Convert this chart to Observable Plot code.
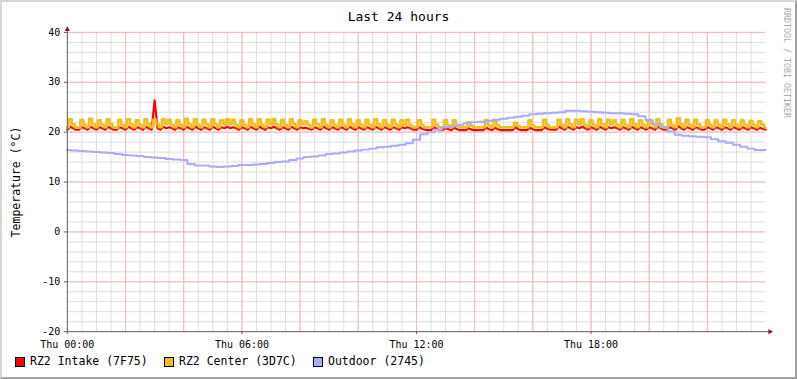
<!DOCTYPE html>
<html>
<head>
<meta charset="utf-8">
<script src="https://cdn.jsdelivr.net/npm/d3@7"></script>
<script src="https://cdn.jsdelivr.net/npm/@observablehq/plot@0.6"></script>
<style>
html, body { margin: 0; padding: 0; background: #fff; }
#wrap {
  position: relative; width: 797px; height: 379px; box-sizing: border-box;
  border-top: 2px solid #d6d6d6; border-left: 2px solid #d6d6d6;
  border-right: 2px solid #a2a2a2; border-bottom: 2px solid #a2a2a2;
  background: #fff; overflow: hidden;
  font-family: "DejaVu Sans Mono", monospace; color: #000;
}
#chart { position: absolute; left: -2px; top: -2px; }
#title { position: absolute; left: -2px; width: 797px; top: 7px; text-align: center; font-size: 13px; line-height: 16px; }
#ylabel-wrap { position: absolute; left: 14px; top: 180px; width: 0; height: 0; }
#ylabel-wrap span { position: absolute; left: 0; top: 0; font-size: 11.5px; white-space: nowrap; transform: translate(-50%, -50%) rotate(-90deg); }
#watermark { position: absolute; left: 780px; top: 6px; writing-mode: vertical-rl; font-size: 8.3px; color: #a8a8a8; white-space: nowrap; }
.leg { position: absolute; top: 352px; font-size: 11.5px; line-height: 14px; white-space: nowrap; }
.leg i { position: absolute; left: -15px; top: 3px; width: 8px; height: 8px; border: 1px solid #000; }
</style>
</head>
<body>
<div id="wrap">
  <div id="chart"></div>
  <div id="title"></div>
  <div id="ylabel-wrap"><span id="ylabel-text"></span></div>
  <div id="watermark"></div>
  <div id="legend"></div>
</div>
<script>
// ---- texts ----
const titleText = "Last 24 hours";
const yLabelText = "Temperature (°C)";
const watermarkText = "RRDTOOL / TOBI OETIKER";
const seriesNames = ["RZ2 Intake (7F75)", "RZ2 Center (3D7C)", "Outdoor (2745)"];
const seriesColors = ["#ff0000", "#ecc11e", "#aaaaff"];

// ---- axis ticks ----
const xTickHours = [0, 6, 12, 18];
const xTickLabels = ["Thu 00:00", "Thu 06:00", "Thu 12:00", "Thu 18:00"];
const yTickValues = [-20, -10, 0, 10, 20, 30, 40];

// ---- data: RZ2 Intake, one sample every 6 minutes from Thu 00:00 ----
const intakeStepMinutes = 6;
const intake = [
  20.5, 21.1, 20.8, 20.5, 20.5, 21.0, 20.8, 20.5, 21.1, 20.8,
  20.5, 21.0, 20.8, 20.5, 21.1, 20.8, 20.5, 20.5, 21.0, 20.8,
  20.5, 21.1, 20.8, 20.5, 21.0, 20.8, 20.5, 21.1, 20.8, 20.5,
  26.4, 20.8, 20.5, 21.1, 20.8, 21.0, 20.8, 20.5, 21.0, 20.8,
  20.5, 21.1, 20.8, 20.5, 21.1, 20.8, 20.5, 21.0, 20.8, 20.5,
  21.1, 20.8, 20.5, 21.0, 20.8, 21.1, 20.8, 21.0, 20.8, 20.5,
  21.0, 20.8, 20.5, 21.1, 20.8, 20.5, 21.1, 20.8, 20.5, 21.0,
  20.8, 21.1, 20.8, 20.5, 21.0, 20.8, 20.5, 21.1, 20.8, 20.5,
  21.0, 20.8, 20.9, 20.7, 20.5, 21.0, 20.8, 20.5, 21.1, 20.8,
  20.5, 21.0, 20.8, 20.5, 21.0, 20.8, 20.5, 21.1, 20.8, 20.5,
  21.0, 20.8, 20.5, 21.0, 20.8, 20.5, 21.1, 20.8, 20.5, 21.0,
  20.8, 20.5, 21.0, 20.8, 20.5, 21.0, 20.8, 21.0, 20.8, 20.5,
  20.5, 21.0, 20.7, 20.5, 20.4, 20.4, 21.0, 20.7, 20.4, 20.4,
  20.9, 20.6, 20.4, 20.9, 20.6, 20.4, 20.4, 20.4, 20.8, 20.5,
  20.4, 20.4, 20.4, 20.4, 20.9, 20.6, 20.4, 20.9, 20.6, 20.4,
  20.4, 20.4, 20.4, 20.4, 21.0, 20.6, 20.4, 20.4, 20.4, 20.9,
  20.6, 20.4, 20.4, 20.4, 21.0, 20.7, 20.5, 20.5, 20.5, 21.1,
  20.8, 20.5, 21.1, 20.8, 20.5, 21.0, 20.8, 21.1, 20.8, 20.5,
  21.0, 20.8, 20.5, 21.1, 20.8, 20.5, 21.0, 20.8, 21.0, 20.8,
  20.5, 21.0, 20.8, 20.5, 21.1, 20.8, 20.5, 21.0, 20.8, 20.5,
  21.0, 20.8, 20.5, 21.1, 20.8, 20.5, 20.5, 21.0, 20.8, 20.5,
  21.2, 20.8, 20.5, 21.0, 20.8, 20.5, 21.0, 20.8, 20.5, 20.5,
  21.0, 20.8, 20.5, 21.0, 20.8, 20.5, 21.0, 20.8, 20.5, 21.0,
  20.8, 20.5, 21.0, 20.8, 20.5, 21.0, 20.8, 20.5, 20.9, 20.7,
  20.5
];

// ---- data: RZ2 Center, one sample every 6 minutes from Thu 00:00 ----
const centerStepMinutes = 6;
const center = [
  21.0, 22.6, 21.6, 21.0, 20.9, 22.5, 21.5, 21.0, 22.7, 21.6,
  21.0, 22.4, 21.5, 21.0, 22.6, 21.6, 21.0, 20.9, 22.5, 21.5,
  21.0, 22.6, 21.6, 21.0, 22.4, 21.5, 21.0, 22.6, 21.6, 21.0,
  22.5, 21.6, 21.0, 22.6, 21.7, 22.5, 21.5, 21.0, 22.4, 21.5,
  21.0, 22.7, 21.6, 21.0, 22.6, 21.5, 21.0, 22.5, 21.6, 21.0,
  22.6, 21.6, 21.0, 22.4, 21.6, 22.6, 21.6, 22.5, 21.5, 21.0,
  22.4, 21.5, 21.0, 22.6, 21.6, 21.0, 22.6, 21.5, 21.0, 22.5,
  21.6, 22.6, 21.6, 21.0, 22.5, 21.5, 21.0, 22.6, 21.6, 21.0,
  22.4, 21.6, 22.2, 21.5, 21.0, 22.5, 21.6, 21.0, 22.6, 21.5,
  21.0, 22.4, 21.5, 21.0, 22.5, 21.5, 21.0, 22.6, 21.6, 21.0,
  22.4, 21.5, 21.0, 22.5, 21.5, 21.0, 22.6, 21.6, 21.0, 22.4,
  21.5, 21.0, 22.5, 21.6, 21.0, 22.4, 21.5, 22.5, 21.5, 21.0,
  21.0, 22.4, 21.5, 21.0, 21.0, 21.0, 22.5, 21.5, 21.0, 21.0,
  22.4, 21.4, 21.0, 22.4, 21.4, 21.0, 21.0, 21.0, 22.0, 21.3,
  21.0, 21.0, 21.0, 21.0, 22.4, 21.4, 21.0, 22.3, 21.4, 21.0,
  21.0, 21.0, 21.0, 21.0, 21.9, 21.3, 21.0, 21.0, 21.0, 22.4,
  21.4, 21.0, 21.0, 21.0, 22.5, 21.5, 21.0, 21.0, 21.0, 22.5,
  21.5, 21.0, 22.6, 21.6, 21.0, 22.5, 21.6, 22.6, 21.5, 21.0,
  22.4, 21.5, 21.0, 22.6, 21.6, 21.0, 22.5, 21.6, 22.4, 21.5,
  21.0, 22.5, 21.5, 21.0, 22.6, 21.6, 21.0, 22.4, 21.5, 21.0,
  22.5, 21.6, 21.0, 22.6, 21.6, 21.0, 21.0, 22.5, 21.5, 21.0,
  22.8, 21.6, 21.0, 22.5, 21.5, 21.0, 22.5, 21.6, 21.0, 21.0,
  22.4, 21.5, 21.0, 22.4, 21.5, 21.0, 22.5, 21.6, 21.0, 22.4,
  21.5, 21.0, 22.4, 21.5, 21.0, 22.3, 21.5, 21.0, 22.2, 21.5,
  21.0
];

// ---- data: Outdoor, one sample every 15 minutes from Thu 00:00 ----
const outdoorStepMinutes = 15;
const outdoor = [
  16.4, 16.3, 16.2, 16.1, 16.0, 15.9, 15.8, 15.6, 15.4, 15.3,
  15.2, 15.0, 14.9, 14.8, 14.6, 14.5, 14.4, 13.6, 13.3, 13.3,
  13.1, 13.0, 13.1, 13.2, 13.4, 13.4, 13.5, 13.6, 13.8, 14.0,
  14.1, 14.4, 14.7, 15.0, 15.1, 15.3, 15.6, 15.7, 15.9, 16.1,
  16.3, 16.5, 16.7, 17.0, 17.1, 17.3, 17.5, 17.8, 18.5, 19.6,
  20.0, 20.5, 21.0, 21.2, 21.5, 21.8, 22.0, 22.1, 22.3, 22.5,
  22.7, 22.9, 23.1, 23.3, 23.6, 23.7, 23.8, 23.9, 24.0, 24.3,
  24.3, 24.2, 24.1, 24.0, 23.9, 23.8, 23.8, 23.7, 23.6, 23.2,
  22.4, 21.6, 21.0, 20.2, 19.5, 19.3, 19.2, 19.1, 19.0, 18.6,
  18.2, 17.9, 17.5, 17.1, 16.7, 16.4, 16.4
];

const toRows = (arr, stepMin) => arr.map((v, i) => ({ h: (i * stepMin) / 60, v }));
const intakeRows = toRows(intake, intakeStepMinutes);
const centerRows = toRows(center, centerStepMinutes);
const outdoorRows = toRows(outdoor, outdoorStepMinutes);

const axisColor = "#5a5a5a";
const arrowColor = "#8a1c1c";
const minorGrid = "#dcdcdc";
const majorGrid = "#f3b9b9";

const xMinor = d3.range(0.5, 24, 0.5);
const xMajor = d3.range(2, 24, 2);
const yMinor = d3.range(-18, 41, 2);
const yMajor = yTickValues.slice(1);

const chart = Plot.plot({
  width: 797,
  height: 379,
  marginLeft: 67,
  marginRight: 30,
  marginTop: 32,
  marginBottom: 47,
  style: { fontFamily: "'DejaVu Sans Mono', monospace", fontSize: "10px", background: "transparent", color: "#000" },
  x: { type: "linear", domain: [0, 24] },
  y: { type: "linear", domain: [-20, 40] },
  marks: [
    Plot.ruleY(yMinor, { stroke: minorGrid, strokeWidth: 1 }),
    Plot.ruleX(xMinor, { stroke: minorGrid, strokeWidth: 1 }),
    Plot.ruleY(yMajor, { stroke: majorGrid, strokeWidth: 1 }),
    Plot.ruleX(xMajor, { stroke: majorGrid, strokeWidth: 1 }),
    Plot.axisY({ ticks: yTickValues, tickFormat: (d) => String(d), tickSize: 3, tickPadding: 4, stroke: axisColor, fill: "#000", label: null }),
    Plot.axisX({ ticks: xTickHours, tickFormat: (d) => xTickLabels[xTickHours.indexOf(d)], tickSize: 3, tickPadding: 6, stroke: axisColor, fill: "#000", label: null }),
    Plot.line(intakeRows, { x: "h", y: "v", stroke: seriesColors[0], strokeWidth: 2.2, curve: "linear" }),
    Plot.line(centerRows, { x: "h", y: "v", stroke: seriesColors[1], strokeWidth: 2.6, curve: "step" }),
    Plot.line(outdoorRows, { x: "h", y: "v", stroke: seriesColors[2], strokeWidth: 2, curve: "step" }),
    Plot.ruleX([0], { y1: -20, y2: 40.6, stroke: axisColor, strokeWidth: 1 }),
    Plot.ruleY([-20], { x1: 0, x2: 24.15, stroke: axisColor, strokeWidth: 1 }),
    Plot.dot([{ x: 0, y: 40.6 }], { x: "x", y: "y", symbol: "triangle", r: 2, fill: arrowColor, stroke: "none" }),
    Plot.dot([{ x: 24.15, y: -20 }], { x: "x", y: "y", symbol: "triangle", r: 2, rotate: 90, fill: arrowColor, stroke: "none" })
  ]
});
document.getElementById("chart").appendChild(chart);

document.getElementById("title").textContent = titleText;
document.getElementById("ylabel-text").textContent = yLabelText;
document.getElementById("watermark").textContent = watermarkText;

const legendX = [30, 179, 328];
const legend = document.getElementById("legend");
seriesNames.forEach((name, i) => {
  const d = document.createElement("div");
  d.className = "leg";
  d.style.left = (legendX[i] - 2) + "px";
  const sw = document.createElement("i");
  sw.style.background = seriesColors[i];
  d.appendChild(sw);
  d.appendChild(document.createTextNode(name));
  legend.appendChild(d);
});
</script>
</body>
</html>
